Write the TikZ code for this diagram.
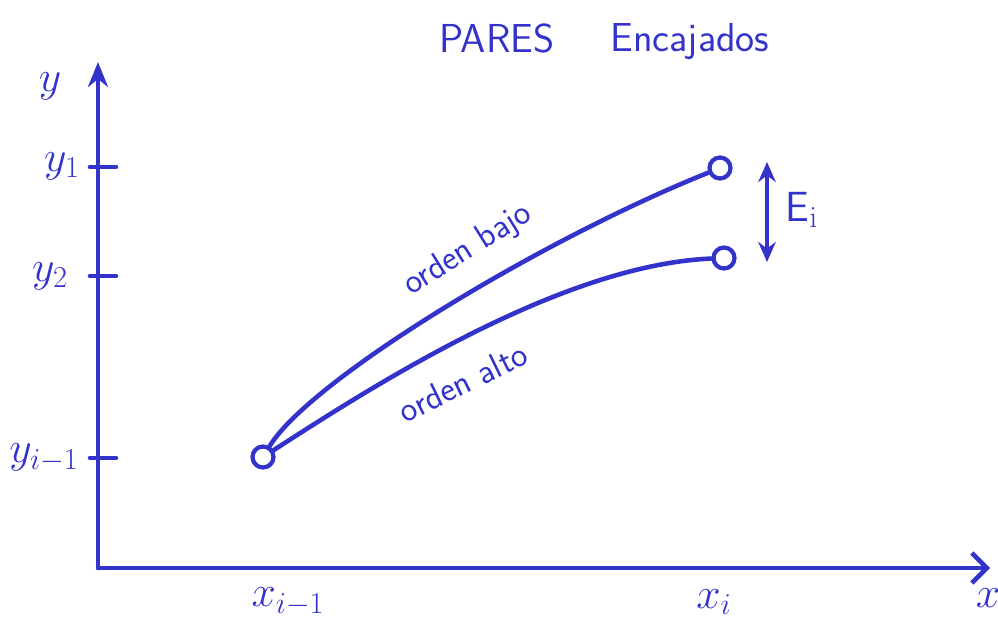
\documentclass[tikz,border=0pt]{standalone}
\usepackage{amsmath}
\usetikzlibrary{arrows.meta, positioning}
\definecolor{tinta}{RGB}{51,51,204}

\begin{document}
\begin{tikzpicture}[x=0.2mm, y=-0.2mm,
        trazo/.style={draw=tinta, line width=2.6pt, line cap=round},
        punto/.style={circle, draw=tinta, line width=2.4pt, fill=white, minimum size=4.2mm, inner sep=0pt},
        etiq/.style={text=tinta, font=\fontsize{24}{28}\selectfont},
        rotulo/.style={text=tinta, font=\sffamily\fontsize{20}{24}\selectfont}]

        \useasboundingbox (0,0) rectangle (998,630);

        % Ejes
        \coordinate (o) at (98,568);
        \coordinate (ytop) at (98,62);
        \coordinate (xend) at (990,568);
        \draw[trazo, -{Stealth[length=5mm, width=4mm]}] (o) -- (ytop);
        \draw[trazo, -{Straight Barb[length=3mm, width=6mm]}] (o) -- (xend);

        % Marcas en el eje y
        \foreach \yy/\nom in {167/t1, 276/t2, 458/t3} {
            \coordinate (\nom) at (98,\yy);
            \draw[trazo] (\nom) ++(-8,0) -- ++(26,0);
        }

        % Rotulos de los ejes
        \node[etiq] (ly) at (50,86) {$y$};
        \node[etiq] (ly1) at (62,166) {$y_1$};
        \node[etiq] (ly2) at (50,276) {$y_2$};
        \node[etiq] (ly3) at (44,458) {$y_{i-1}$};
        \node[etiq] (lx0) at (288,602) {$x_{i-1}$};
        \node[etiq] (lx1) at (714,602) {$x_i$};
        \node[etiq] (lx) at (988,598) {$x$};

        % Titulo
        \node[text=tinta, font=\sffamily\fontsize{23}{27}\selectfont] (tit1) at (497,38) {PARES};
        \node[text=tinta, font=\sffamily\fontsize{23}{27}\selectfont] (tit2) at (690,42) {Encajados};

        % Puntos y curvas
        \node[punto] (p0) at (263,457) {};
        \node[punto] (p1) at (720,168) {};
        \node[punto] (p2) at (724,258) {};
        \draw[trazo] (p0) .. controls (310,380) and (540,240) .. (p1);
        \draw[trazo] (p0) .. controls (370,388) and (560,265) .. (p2);

        \node[rotulo, rotate=32] (bajo) at (468,250) {orden bajo};
        \node[rotulo, rotate=26] (alto) at (463,382) {orden alto};

        % Error
        \coordinate (ea) at (767,162);
        \coordinate (eb) at (767,262);
        \draw[trazo, {Stealth[length=4mm, width=3.5mm]}-{Stealth[length=4mm, width=3.5mm]}] (ea) -- (eb);
        \node[etiq, font=\sffamily\fontsize{24}{28}\selectfont] (lerr) at (802,210) {E$_\mathrm{i}$};
    \end{tikzpicture}
\end{document}
